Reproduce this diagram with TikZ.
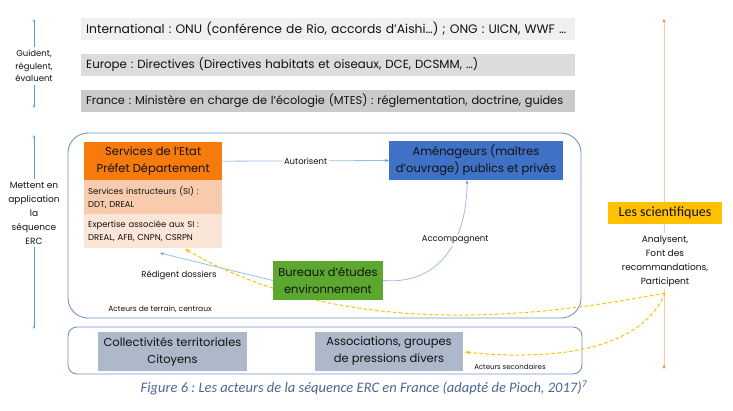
\documentclass[tikz,border=0pt]{standalone}
\usepackage{fontspec}
\setmainfont{Poppins}
\newfontfamily\calib{Carlito}
\usetikzlibrary{arrows.meta}
\frenchspacing
\definecolor{barA}{HTML}{F0F0F0}
\definecolor{barB}{HTML}{DCDCDC}
\definecolor{barC}{HTML}{CACACA}
\definecolor{etatC}{HTML}{F77B0C}
\definecolor{siC}{HTML}{F8CBAD}
\definecolor{expC}{HTML}{FBE5D6}
\definecolor{amenC}{HTML}{3F72C6}
\definecolor{burC}{HTML}{5CA82E}
\definecolor{sciC}{HTML}{FFC000}
\definecolor{secC}{HTML}{ADB9CA}
\definecolor{frameC}{HTML}{7393C2}
\definecolor{lineC}{HTML}{9DBDE6}
\definecolor{leftC}{HTML}{5B9BD5}
\definecolor{orLine}{HTML}{F8CBAD}
\definecolor{orTip}{HTML}{ED7D31}
\definecolor{dashC}{HTML}{FFC000}
\definecolor{capC}{HTML}{4A6694}
\definecolor{txt}{HTML}{111111}
\newcommand\fsz[2]{\fontsize{#1}{#2}\selectfont}
\newcommand\barline[2]{\resizebox{#1}{!}{#2}}
\begin{document}
\begin{tikzpicture}[x=1pt,y=-1pt,
  bar/.style={anchor=west, minimum height=22pt, text width=484pt, inner xsep=5pt, inner ysep=0pt, align=left, font=\fsz{11.6}{13}, text=txt},
  box/.style={inner sep=0pt, align=center, text=txt},
  small/.style={font=\fsz{8.5}{12.5}, align=center, text=txt, inner sep=1pt},
  lbl/.style={font=\fsz{8.5}{12}, align=center, text=txt, fill=white, inner sep=1.5pt},
  bluearr/.style={draw=lineC, line width=0.8pt, -{Stealth[length=4pt,width=3pt,color=leftC]}},
  leftarr/.style={draw=leftC, line width=0.7pt, -{Stealth[length=3pt,width=2.5pt]}},
  orarr/.style={draw=orLine, line width=0.8pt, -{Stealth[length=3.5pt,width=3pt,color=orTip]}},
  dasharr/.style={draw=dashC, line width=1pt, dash pattern=on 3.5pt off 2.5pt, -{Stealth[length=5pt,width=4pt]}},
]
\useasboundingbox (0,0) rectangle (733,410);

% top bars
\node[bar, fill=barA] (intl) at (81,29) {\barline{480pt}{International : ONU (conférence de Rio, accords d’Aishi…) ; ONG : UICN, WWF …}};
\node[bar, fill=barB] (eur) at (81,65) {\barline{392pt}{Europe : Directives (Directives habitats et oiseaux, DCE, DCSMM, …)}};
\node[bar, fill=barC] (fra) at (81,101) {\barline{477pt}{France : Ministère en charge de l’écologie (MTES) : réglementation, doctrine, guides}};

% left arrows
\node[small, inner sep=3pt] (guid) at (34,66) {Guident,\\régulent,\\évaluent};
\coordinate (g1) at (34,19);
\coordinate (g2) at (34,108);
\draw[leftarr] (guid.north) -- (g1);
\draw[leftarr] (guid.south) -- (g2);

\node[small, font=\fsz{9}{14}, inner sep=3pt] (mett) at (34,213) {Mettent en\\application\\la\\séquence\\ERC};
\coordinate (m1) at (34,135);
\coordinate (m2) at (34,329);
\draw[leftarr] (mett.north) -- (m1);
\draw[leftarr] (mett.south) -- (m2);

% frames
\draw[frameC, line width=0.9pt, rounded corners=20pt] (68,133) rectangle (581,318);
\draw[frameC, line width=0.9pt, rounded corners=9pt] (68,327) rectangle (582,374);

% orange vertical arrow
\node[box, fill=sciC, minimum width=114pt, minimum height=22pt, font=\calib\fsz{14}{16}] (sci) at (665,213) {Les scientifiques};
\node[small, fill=white, font=\fsz{9}{14}, inner sep=2pt] (ana) at (665,261) {Analysent,\\Font des\\recommandations,\\Participent};
\coordinate (o1) at (664,19);
\coordinate (o2) at (664,369);
\draw[orarr] (sci.north -| o1) -- (o1);
\draw[orarr] (ana.south -| o2) -- (o2);
\draw[orLine, line width=0.8pt] (sci.south -| o1) -- (ana.north -| o1);

% yellow dashed connectors (behind boxes)
\coordinate (sciP) at (665,293);
\coordinate (expB) at (185,249);
\coordinate (assE) at (465,352);
\draw[dasharr] (sciP) .. controls (450,335) and (300,315) .. (expB);
\draw[dasharr] (sciP) .. controls (640,355) and (540,360) .. (assE);

% bureaux d'etudes (over the dashed line)
\node[box, fill=burC, minimum width=110pt, minimum height=39pt, font=\fsz{11.5}{17}] (bur) at (328,280.5) {Bureaux d’études\\environnement};

% state boxes
\node[box, fill=etatC, minimum width=138pt, minimum height=38pt, anchor=north west, font=\fsz{11.5}{17}] (etat) at (84,142) {Services de l’Etat\\Préfet Département};
\node[box, fill=siC, minimum width=138pt, minimum height=34pt, anchor=north west, text width=130pt, align=left, font=\fsz{8.5}{13}] (si) at (84,180) {Services instructeurs (SI) :\\DDT, DREAL};
\node[box, fill=expC, minimum width=138pt, minimum height=34pt, anchor=north west, text width=130pt, align=left, font=\fsz{8.5}{13}] (exp) at (84,214) {Expertise associée aux SI :\\DREAL, AFB, CNPN, CSRPN};

% amenageurs
\node[box, fill=amenC, minimum width=174pt, minimum height=39pt, font=\fsz{11.5}{17}] (amen) at (476,160.5) {Aménageurs (maîtres\\d’ouvrage) publics et privés};

% blue connectors
\draw[bluearr] (etat.east) -- node[lbl] {Autorisent} (amen.west);
\draw[bluearr] (bur.east) .. controls (440,285) and (467,240) .. node[lbl, pos=0.62] {Accompagnent} (amen.south -| 467,0);
\coordinate (redT) at (160,253);
\draw[bluearr] (bur.west) -- (redT);
\node[lbl] (red) at (179,275) {Rédigent dossiers};

\node[small, font=\fsz{7.5}{9}] (terr) at (160,309) {Acteurs de terrain, centraux};

% secondary actors
\node[box, fill=secC, minimum width=149pt, minimum height=39pt, font=\fsz{11.5}{17}] (coll) at (172.5,351.5) {Collectivités territoriales\\Citoyens};
\node[box, fill=secC, minimum width=148pt, minimum height=39pt, font=\fsz{11.5}{17}] (asso) at (389,351.5) {Associations, groupes\\de pressions divers};
\node[small, font=\fsz{7}{9}] (secd) at (510,367) {Acteurs secondaires};

% caption
\node[font=\calib\itshape\fsz{14.5}{16}, text=capC, inner sep=0pt] (cap) at (364,388) {Figure 6 : Les acteurs de la séquence ERC en France (adapté de Pioch, 2017)\textsuperscript{7}};
\end{tikzpicture}
\end{document}
